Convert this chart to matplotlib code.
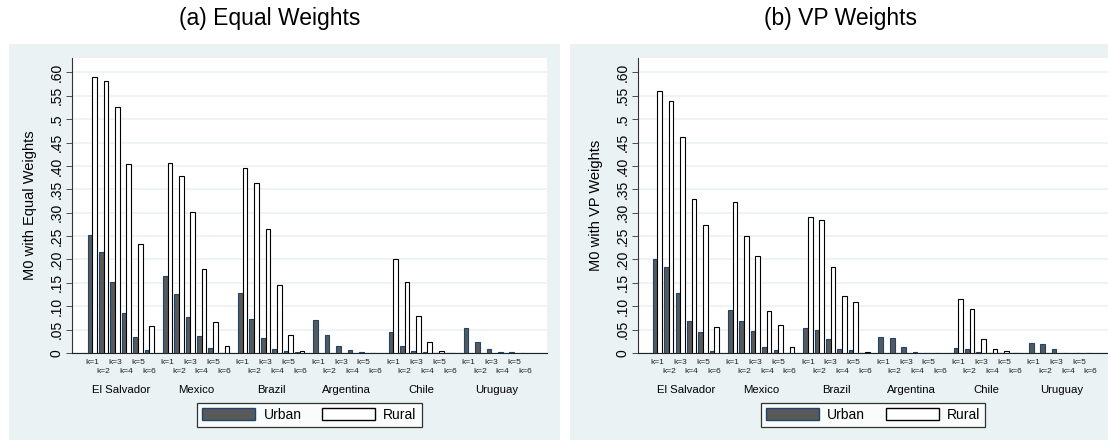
import numpy as np
import matplotlib
matplotlib.use('Agg')
import matplotlib.pyplot as plt
from matplotlib.patches import Rectangle, Patch

plt.rcParams['font.family'] = ['Liberation Sans', 'DejaVu Sans']

countries = ['El Salvador', 'Mexico', 'Brazil', 'Argentina', 'Chile', 'Uruguay']
k_labels = ['k=1', 'k=2', 'k=3', 'k=4', 'k=5', 'k=6']
nan = np.nan

# (a) equal weights, one row per country, k=1..6
eq_urban = [
    [0.252, 0.215, 0.152, 0.085, 0.035, 0.006],
    [0.164, 0.126, 0.076, 0.036, 0.010, 0.001],
    [0.129, 0.073, 0.032, 0.009, 0.004, 0.0015],
    [0.071, 0.038, 0.016, 0.006, 0.0015, 0.0],
    [0.045, 0.014, 0.004, 0.0015, 0.001, 0.0005],
    [0.053, 0.023, 0.009, 0.0015, 0.0015, 0.0],
]
eq_rural = [
    [0.591, 0.582, 0.527, 0.404, 0.234, 0.058],
    [0.406, 0.379, 0.301, 0.179, 0.067, 0.014],
    [0.396, 0.364, 0.266, 0.145, 0.039, 0.005],
    [nan, nan, nan, nan, nan, nan],
    [0.202, 0.151, 0.079, 0.024, 0.004, 0.001],
    [nan, nan, nan, nan, nan, nan],
]

# (b) VP weights
vp_urban = [
    [0.200, 0.185, 0.129, 0.069, 0.044, 0.005],
    [0.091, 0.069, 0.048, 0.013, 0.006, 0.001],
    [0.053, 0.049, 0.030, 0.009, 0.006, 0.001],
    [0.034, 0.033, 0.013, 0.002, 0.001, 0.0],
    [0.011, 0.009, 0.002, 0.001, 0.001, 0.0005],
    [0.021, 0.019, 0.009, 0.001, 0.0005, 0.0],
]
vp_rural = [
    [0.560, 0.539, 0.463, 0.330, 0.274, 0.056],
    [0.323, 0.251, 0.208, 0.089, 0.059, 0.012],
    [0.291, 0.284, 0.183, 0.121, 0.109, 0.003],
    [nan, nan, nan, nan, nan, nan],
    [0.116, 0.094, 0.029, 0.009, 0.004, 0.0005],
    [nan, nan, nan, nan, nan, nan],
]

yticks = [0, .05, .10, .15, .20, .25, .30, .35, .40, .45, .5, .55, .60]
ytick_labels = ['0', '.05', '.10', '.15', '.20', '.25', '.30', '.35', '.40', '.45', '.5', '.55', '.60']

BG = '#EAF2F3'
URBAN = '#595959'
URBAN_EDGE = '#1a476f'

W, H = 1108, 440
fig = plt.figure(figsize=(W / 100, H / 100), dpi=100)
fig.patch.set_facecolor('white')

# grey panels behind each chart
fig.patches.append(Rectangle((9 / W, 0), 551 / W, 396 / H, transform=fig.transFigure,
                             facecolor=BG, edgecolor='none', zorder=-5))
fig.patches.append(Rectangle((570 / W, 0), 538 / W, 396 / H, transform=fig.transFigure,
                             facecolor=BG, edgecolor='none', zorder=-5))

GROUP = 6.6
BW = 0.41


def draw_panel(rect, urban, rural, ylabel, title, title_x, x_left):
    ax = fig.add_axes(rect)
    ax.set_zorder(2)
    ax.set_facecolor('white')
    width_units = rect[2] * W / 11.4
    ax.set_xlim(x_left, x_left + width_units)
    ax.set_ylim(0, 0.631)

    trans = ax.get_xaxis_transform()
    for c in range(len(countries)):
        centers = c * GROUP + np.arange(6)
        ax.bar(centers - BW / 2, urban[c], width=BW, color=URBAN,
               edgecolor=URBAN_EDGE, linewidth=0.8, zorder=3)
        r = np.array(rural[c])
        ok = ~np.isnan(r)
        if ok.any():
            ax.bar(centers[ok] + BW / 2, r[ok], width=BW, color='white',
                   edgecolor='black', linewidth=0.8, zorder=3)
        for i, lab in enumerate(k_labels):
            yy = -0.031 if i % 2 == 0 else -0.062
            ax.text(centers[i], yy, lab, transform=trans, ha='center', va='center',
                    fontsize=6, color='#222222')
        ax.text(centers.mean(), -0.127, countries[c], transform=trans,
                ha='center', va='center', fontsize=8.2)

    ax.set_yticks(yticks)
    ax.set_yticklabels(ytick_labels, rotation=90, va='center', fontsize=10)
    ax.tick_params(axis='y', length=4, width=0.6, color='#333333', pad=2)
    ax.set_xticks([])
    ax.grid(axis='y', color=BG, linewidth=1.2, zorder=0)
    ax.set_axisbelow(True)
    for s in ['top', 'right']:
        ax.spines[s].set_visible(False)
    ax.spines['left'].set_color('#333333')
    ax.spines['left'].set_linewidth(0.8)
    ax.spines['bottom'].set_color('#222222')
    ax.spines['bottom'].set_linewidth(0.8)
    ax.set_ylabel(ylabel, fontsize=10.5, labelpad=9)

    handles = [Patch(facecolor=URBAN, edgecolor=URBAN_EDGE, label='Urban'),
               Patch(facecolor='white', edgecolor='black', label='Rural')]
    leg = ax.legend(handles=handles, loc='center', bbox_to_anchor=(0.5, -0.21), ncol=2,
                    fontsize=10, frameon=True, fancybox=False, handlelength=3.8,
                    handleheight=1.0, columnspacing=1.5, handletextpad=0.6,
                    borderpad=0.35)
    leg.get_frame().set_edgecolor('black')
    leg.get_frame().set_linewidth(0.9)

    fig.text(title_x / W, 1 - 18 / H, title, ha='center', va='center', fontsize=16.5)
    return ax


bottom = 87 / H
height = 295 / H
draw_panel([72 / W, bottom, 475 / W, height], eq_urban, eq_rural,
           'M0 with Equal Weights', '(a) Equal Weights', 270, -1.78)
draw_panel([638 / W, bottom, 470 / W, height], vp_urban, vp_rural,
           'M0 with VP Weights', '(b) VP Weights', 840, -1.70)

fig.savefig('out.png', dpi=100, facecolor='white')
